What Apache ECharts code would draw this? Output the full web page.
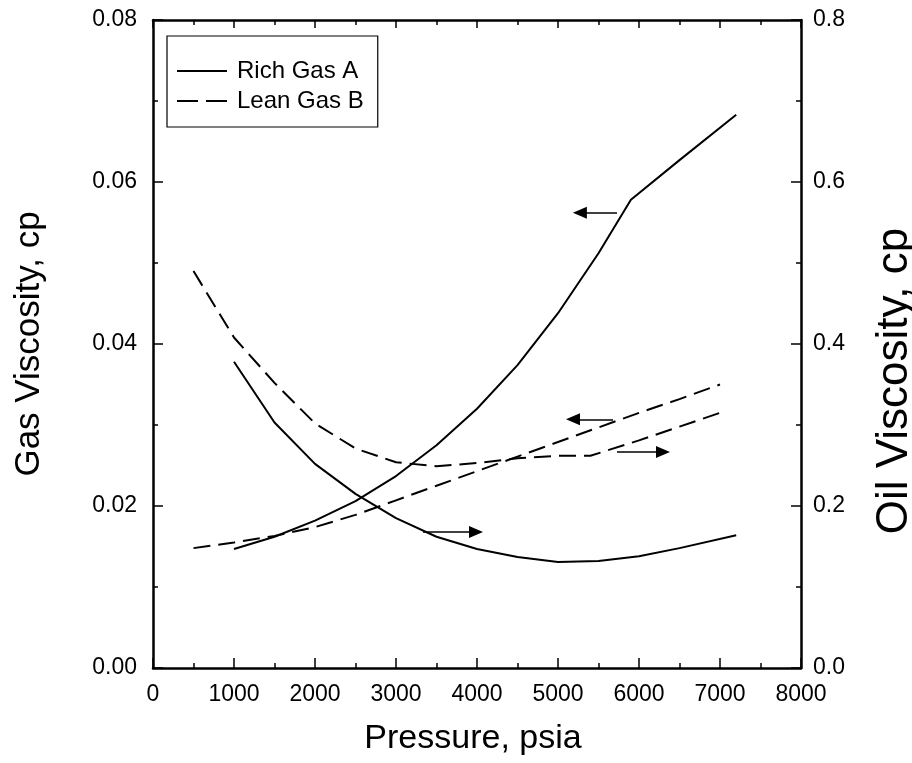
<!DOCTYPE html>
<html>
<head>
<meta charset="utf-8">
<script src="https://cdn.jsdelivr.net/npm/echarts@6/dist/echarts.min.js"></script>
<style>html,body{margin:0;padding:0;background:#fff}#c{width:912px;height:763px}</style>
</head>
<body>
<div id="c"></div>
<script>
// Rich Gas A - gas viscosity (left axis)
var gasA_p = [1000,1500,2000,2500,3000,3500,4000,4500,5000,5500,5900,6500,7200];
var gasA_v = [0.0147,0.0162,0.0182,0.0206,0.0237,0.0275,0.0320,0.0374,0.0438,0.0512,0.0578,0.0627,0.0683];
// Rich Gas A - oil viscosity (right axis)
var oilA_p = [1000,1500,2000,2500,3000,3500,4000,4500,5000,5500,6000,6500,7200];
var oilA_v = [0.378,0.303,0.252,0.215,0.185,0.162,0.147,0.137,0.131,0.132,0.138,0.148,0.164];
// Lean Gas B - gas viscosity (left axis)
var gasB_p = [500,1000,1500,2000,2500,3000,3500,4000,4500,5000,5500,6000,6500,7000];
var gasB_v = [0.0148,0.0155,0.0163,0.0174,0.0189,0.0207,0.0225,0.0243,0.0261,0.0279,0.0297,0.0315,0.0332,0.0350];
// Lean Gas B - oil viscosity (right axis)
var oilB_p = [500,1000,1500,2000,2500,3000,3500,4000,4500,5000,5400,6000,6500,7000];
var oilB_v = [0.490,0.408,0.352,0.302,0.271,0.254,0.249,0.253,0.259,0.262,0.262,0.281,0.298,0.315];
// Arrows: [fromP, toP, value]
var arrowGasA = [5728, 5270, 0.0562];
var arrowGasB = [5679, 5185, 0.0307];
var arrowOilB = [5728, 6296, 0.2667];
var arrowOilA = [3333, 3988, 0.168];
// Legend labels and tick settings
var legendNames = ['Rich Gas A', 'Lean Gas B'];
var xTicks = {min:0, max:8000, interval:1000};
var gasTicks = {min:0, max:0.08, interval:0.02};
var oilTicks = {min:0, max:0.8, interval:0.2};

function zip(a,b){return a.map(function(x,i){return [x,b[i]];});}
function arrow(a){return [{coord:[a[0],a[2]],symbol:'none'},{coord:[a[1],a[2]],symbol:'triangle'}];}

var FONT = 'Liberation Sans, Arial, sans-serif';
var chart = echarts.init(document.getElementById('c'));
function ml(list){
  return {silent:true, animation:false, symbolSize:[12,14], label:{show:false},
    lineStyle:{color:'#000',type:'solid',width:1.5}, emphasis:{disabled:true},
    data:list.map(arrow)};
}
function ticks(len){return {show:true,inside:true,length:len,lineStyle:{color:'#000',width:1.5}};}
function minor(len){return {show:true,splitNumber:2,length:len,lineStyle:{color:'#000',width:1.5}};}
var axisLine = {show:true,onZero:false,lineStyle:{color:'#000',width:2.5}};

chart.setOption({
  animation:false,
  textStyle:{fontFamily:FONT,color:'#000'},
  grid:{left:153,right:111,top:20,bottom:95,containLabel:false,outerBoundsMode:'none'},
  legend:{
    left:167, top:36, orient:'vertical', selectedMode:false,
    data:[
      {name:legendNames[0], icon:'path://M0,0H50V2H0Z'},
      {name:legendNames[1], icon:'path://M0,0H21V2H0ZM29,0H50V2H29Z'}
    ],
    itemWidth:50, itemHeight:2, itemGap:6,
    padding:[23,14,14,10],
    itemStyle:{color:'#000'},
    borderColor:'#000', borderWidth:1.2,
    textStyle:{fontFamily:FONT,fontSize:24,color:'#000',padding:[0,0,0,5]}
  },
  xAxis:[{
    type:'value', min:xTicks.min, max:xTicks.max, interval:xTicks.interval, position:'bottom',
    name:'Pressure, psia', nameLocation:'middle', nameGap:54,
    nameTextStyle:{fontSize:34,color:'#000',fontFamily:FONT,padding:[0,8,0,0]},
    axisLine:axisLine, axisTick:ticks(10), minorTick:minor(5),
    axisLabel:{fontSize:23,color:'#000',margin:15,fontFamily:FONT,formatter:function(v){return String(v);}},
    splitLine:{show:false}
  },{
    type:'value', min:xTicks.min, max:xTicks.max, interval:xTicks.interval, position:'top',
    axisLine:axisLine, axisTick:ticks(8), minorTick:minor(5),
    axisLabel:{show:false}, splitLine:{show:false}
  }],
  yAxis:[{
    type:'value', min:gasTicks.min, max:gasTicks.max, interval:gasTicks.interval, position:'left',
    name:'Gas Viscosity, cp', nameLocation:'middle', nameGap:106, nameRotate:90,
    nameTextStyle:{fontSize:35,color:'#000',fontFamily:FONT},
    axisLine:axisLine, axisTick:ticks(10), minorTick:minor(5),
    axisLabel:{fontSize:23,color:'#000',margin:16,fontFamily:FONT,formatter:function(v){return v.toFixed(2);}},
    splitLine:{show:false}
  },{
    type:'value', min:oilTicks.min, max:oilTicks.max, interval:oilTicks.interval, position:'right',
    name:'Oil Viscosity, cp', nameLocation:'middle', nameGap:72, nameRotate:90,
    nameTextStyle:{fontSize:44,color:'#000',fontFamily:FONT,padding:[0,74,0,0]},
    axisLine:axisLine, axisTick:ticks(10), minorTick:minor(5),
    axisLabel:{fontSize:23,color:'#000',margin:12,fontFamily:FONT,formatter:function(v){return v.toFixed(1);}},
    splitLine:{show:false}
  }],
  series:[
    {name:legendNames[0], type:'line', xAxisIndex:0, yAxisIndex:0, data:zip(gasA_p,gasA_v), symbol:'none',
     lineStyle:{color:'#000',width:2,type:'solid'}, itemStyle:{color:'#000'}, markLine:ml([arrowGasA])},
    {name:legendNames[0], type:'line', xAxisIndex:0, yAxisIndex:1, data:zip(oilA_p,oilA_v), symbol:'none',
     lineStyle:{color:'#000',width:2,type:'solid'}, itemStyle:{color:'#000'}, markLine:ml([arrowOilA,arrowOilB])},
    {name:legendNames[1], type:'line', xAxisIndex:0, yAxisIndex:0, data:zip(gasB_p,gasB_v), symbol:'none',
     lineStyle:{color:'#000',width:2,type:[17,8]}, itemStyle:{color:'#000'}, markLine:ml([arrowGasB])},
    {name:legendNames[1], type:'line', xAxisIndex:0, yAxisIndex:1, data:zip(oilB_p,oilB_v), symbol:'none',
     lineStyle:{color:'#000',width:2,type:[17,8]}, itemStyle:{color:'#000'}}
  ]
});
</script>
</body>
</html>
